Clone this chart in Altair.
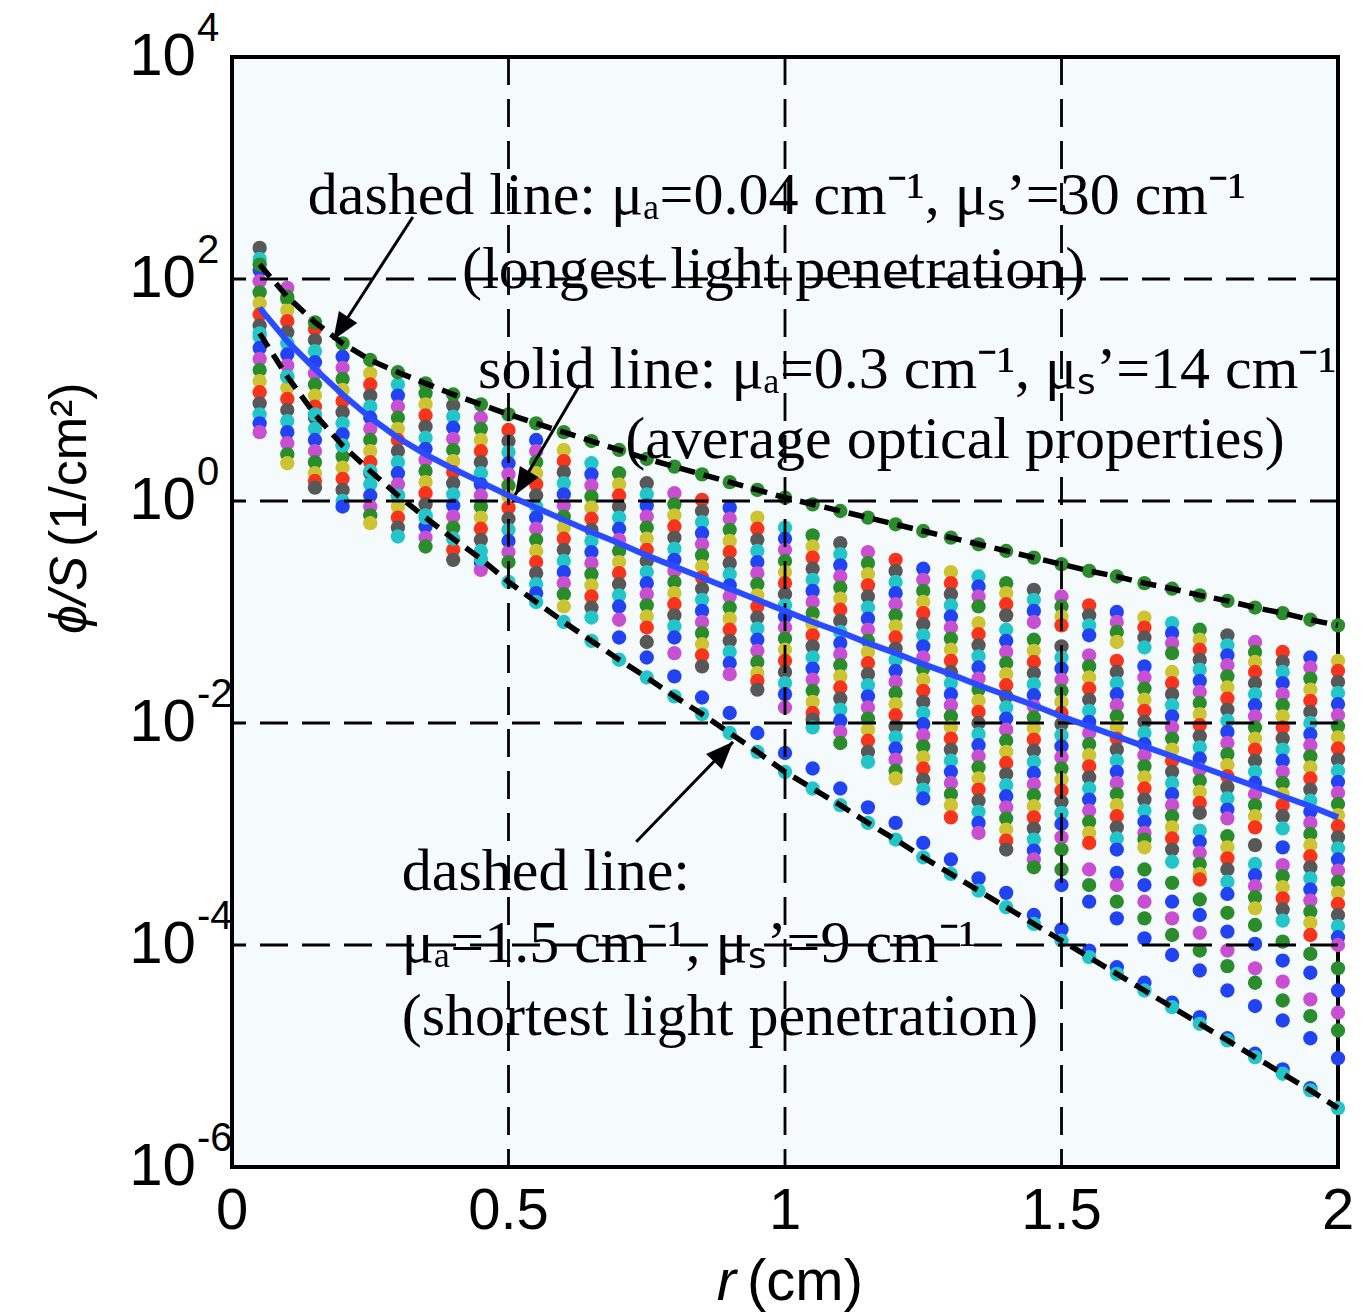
import altair as alt
import pandas as pd

# ---------------- data ----------------
r_values = [0.05, 0.10, 0.15, 0.20, 0.25, 0.30, 0.35, 0.40, 0.45, 0.50,
            0.55, 0.60, 0.65, 0.70, 0.75, 0.80, 0.85, 0.90, 0.95, 1.00,
            1.05, 1.10, 1.15, 1.20, 1.25, 1.30, 1.35, 1.40, 1.45, 1.50,
            1.55, 1.60, 1.65, 1.70, 1.75, 1.80, 1.85, 1.90, 1.95, 2.00]

# log10(phi/S) x 100 of the dense dots in each column (one string per r)
band_dots = [
    "228 218 208 198 188 178 168 158 148 138 128 118 108 98 88 78 70 62",
    "192 182 172 162 152 142 132 122 112 102 92 82 72 62 52 42 34",
    "155 145 135 125 115 105 95 85 75 65 55 45 35 25 18 12",
    "130 120 110 100 90 80 70 60 50 40 30 20 10 0 -5",
    "115 105 95 85 75 65 55 45 35 25 15 5 -5 -13 -20",
    "105 95 85 75 65 55 45 35 25 15 5 -5 -15 -24 -32",
    "97 87 77 67 57 47 37 27 17 7 -3 -13 -23 -33 -41",
    "86 76 66 56 46 36 26 16 6 -4 -14 -24 -34 -44 -53",
    "75 65 55 45 35 25 15 5 -5 -15 -25 -35 -45 -55 -62",
    "64 54 44 34 24 14 4 -6 -16 -26 -36 -46 -55",
    "55 45 35 25 15 5 -5 -15 -25 -35 -45 -55 -65 -75 -83",
    "46 36 26 16 6 -4 -14 -24 -34 -44 -54 -64 -74 -84 -95",
    "34 24 14 4 -6 -16 -26 -36 -46 -56 -66 -76 -86 -96 -105",
    "25 15 5 -5 -15 -25 -35 -45 -55 -65 -75 -85 -95 -107",
    "16 6 -4 -14 -24 -34 -44 -54 -64 -74 -84 -94 -104 -114 -127",
    "7 -3 -13 -23 -33 -43 -53 -63 -73 -83 -93 -103 -113 -123 -137",
    "1 -9 -19 -29 -39 -49 -59 -69 -79 -89 -99 -109 -119 -129 -139 -149",
    "-6 -16 -26 -36 -46 -56 -66 -76 -86 -96 -106 -116 -126 -136 -146 -156",
    "-15 -25 -35 -45 -55 -65 -75 -85 -95 -105 -115 -125 -135 -145 -155 -162 -170",
    "-24 -34 -44 -54 -64 -74 -84 -94 -104 -114 -124 -134 -144 -154 -164 -174 -186",
    "-31 -41 -51 -61 -71 -81 -91 -101 -111 -121 -131 -141 -151 -161 -171 -181 -191 -197 -204",
    "-38 -48 -58 -68 -78 -88 -98 -108 -118 -128 -138 -148 -158 -168 -178 -188 -198 -208 -218",
    "-46 -56 -66 -76 -86 -96 -106 -116 -126 -136 -146 -156 -166 -176 -186 -196 -206 -216 -226 -235",
    "-53 -63 -73 -83 -93 -103 -113 -123 -133 -143 -153 -163 -173 -183 -193 -203 -213 -223 -233 -243 -250",
    "-61 -71 -81 -91 -101 -111 -121 -131 -141 -151 -161 -171 -181 -191 -201 -211 -221 -231 -241 -251 -260 -268",
    "-64 -74 -84 -94 -104 -114 -124 -134 -144 -154 -164 -174 -184 -194 -204 -214 -224 -234 -244 -254 -264 -274 -285",
    "-68 -77 -86 -95 -110 -120 -130 -140 -150 -160 -170 -180 -190 -200 -210 -220 -230 -240 -250 -260 -270 -280 -290 -299",
    "-74 -83 -93 -103 -116 -126 -136 -146 -156 -166 -176 -186 -196 -206 -216 -226 -236 -246 -256 -266 -276 -286 -296 -306 -314",
    "-80 -89 -99 -109 -125 -135 -145 -155 -165 -175 -185 -195 -205 -215 -225 -235 -245 -255 -265 -275 -285 -295 -305 -315 -323 -330",
    "-86 -95 -104 -112 -131 -141 -151 -161 -171 -181 -191 -201 -211 -221 -231 -241 -251 -261 -271 -281 -291 -303 -314",
    "-94 -103 -112 -121 -139 -149 -159 -169 -179 -189 -199 -209 -219 -229 -239 -249 -259 -269 -279 -289 -299 -308",
    "-100 -109 -118 -127 -144 -154 -164 -174 -184 -194 -204 -214 -224 -234 -244 -254 -264 -274 -284 -294 -304 -314",
    "-105 -114 -123 -132 -149 -159 -169 -179 -189 -199 -209 -219 -229 -239 -249 -259 -269 -279 -289 -299 -305 -312",
    "-110 -119 -128 -137 -154 -164 -174 -184 -194 -204 -214 -224 -234 -244 -254 -264 -274 -284 -294 -304 -314 -325",
    "-116 -125 -134 -143 -152 -162 -172 -182 -192 -202 -212 -222 -232 -242 -252 -262 -272 -281 -297 -307 -317 -327 -336 -341",
    "-121 -130 -139 -148 -158 -168 -178 -188 -198 -208 -218 -228 -238 -248 -258 -268 -278 -286 -302 -312 -322 -332 -343 -354",
    "-127 -136 -145 -154 -164 -174 -184 -194 -204 -214 -224 -234 -244 -254 -264 -274 -284 -294 -310 -327 -337 -347 -357 -367",
    "-136 -145 -154 -164 -174 -184 -194 -204 -214 -224 -234 -244 -254 -264 -274 -284 -295 -312 -328 -338 -348 -358 -368 -378",
    "-141 -150 -160 -170 -180 -190 -200 -210 -220 -230 -240 -250 -260 -270 -280 -290 -300 -310 -320 -330 -340 -350 -360 -370 -380 -391",
    "-144 -153 -163 -173 -183 -193 -203 -213 -223 -233 -243 -253 -263 -273 -283 -293 -303 -313 -323 -333 -343 -353 -363 -373 -383 -393 -400",
]

# isolated dots below each column: log10 x 100 + colour letter
iso_dots = [
    "", "", "", "", "", "", "", "", "", "",
    "", "", "", "-123b", "-141b", "-158b", "-177b", "-191b", "-209b", "-227b",
    "-241b", "-259b", "-276b", "-290b", "-308b", "-323b", "-340b", "-353b", "-373b", "-332g -346b -386b",
    "-332m -346g -361b -405b",
    "-335b -346m -361g -376b -420b",
    "-332g -346b -361m -376g -394b -434b",
    "-344g -361b -376m -391g -409b -452b",
    "-359g -373b -389m -405g -423b -465b",
    "-371g -388b -405m -419g -441b -484b",
    "-382g -399b -421m -434g -455b -498b",
    "-397g -414b -433m -450g -468b -512b",
    "-408g -425b -449m -464g -484b -529b",
    "-421g -441b -461m -477g -502b",
]

# log10 of the three curves at each r
upper_line = [2.13, 1.84, 1.61, 1.42, 1.27, 1.16, 1.06, 0.96, 0.87, 0.78,
              0.70, 0.62, 0.54, 0.46, 0.38, 0.31, 0.24, 0.17, 0.10, 0.03,
              -0.03, -0.09, -0.15, -0.21, -0.27, -0.33, -0.39, -0.45, -0.51, -0.57,
              -0.63, -0.68, -0.74, -0.79, -0.85, -0.90, -0.96, -1.01, -1.07, -1.12]
mean_line = [1.74, 1.44, 1.19, 0.96, 0.75, 0.57, 0.42, 0.29, 0.17, 0.05,
             -0.06, -0.17, -0.28, -0.38, -0.49, -0.59, -0.69, -0.79, -0.89, -0.99,
             -1.09, -1.18, -1.28, -1.37, -1.47, -1.56, -1.66, -1.75, -1.84, -1.94,
             -2.03, -2.12, -2.21, -2.30, -2.39, -2.48, -2.57, -2.66, -2.75, -2.85]
lower_line = [1.51, 1.12, 0.78, 0.50, 0.27, 0.05, -0.15, -0.34, -0.52, -0.73,
              -0.91, -1.09, -1.26, -1.43, -1.59, -1.76, -1.92, -2.09, -2.26, -2.44,
              -2.59, -2.74, -2.90, -3.05, -3.21, -3.36, -3.51, -3.66, -3.81, -3.96,
              -4.11, -4.26, -4.41, -4.56, -4.71, -4.86, -5.01, -5.16, -5.31, -5.47]

x_ticks = [0, 0.5, 1, 1.5, 2]
x_tick_labels = ["0", "0.5", "1", "1.5", "2"]
y_ticks = [1e4, 1e2, 1, 1e-2, 1e-4, 1e-6]
y_exponents = ["4", "2", "0", "-2", "-4", "-6"]
grid_x = [0.5, 1.0, 1.5]
grid_y = [1e2, 1, 1e-2, 1e-4]

ann_text = [
    "dashed line: μₐ=0.04 cm⁻¹, μₛ’=30 cm⁻¹",
    "(longest light penetration)",
    "solid line: μₐ=0.3 cm⁻¹, μₛ’=14 cm⁻¹",
    "(average optical properties)",
    "dashed line:",
    "μₐ=1.5 cm⁻¹, μₛ’=9 cm⁻¹",
    "(shortest light penetration)",
]
ann_r = [0.137, 0.416, 0.445, 0.711, 0.307, 0.307, 0.307]
ann_logy = [2.586, 1.919, 1.018, 0.387, -3.505, -4.153, -4.811]

arrow_r0 = [0.327, 0.629, 0.731]
arrow_log0 = [2.559, 1.045, -3.07]
arrow_r1 = [0.183, 0.512, 0.906]
arrow_log1 = [1.450, 0.054, -2.17]
arrow_angle = [213, 211, 44]

# ---------------- build tables ----------------
palette = {"k": "#585858", "y": "#cdc433", "m": "#c84fd2", "c": "#22c6c9",
           "r": "#f8341c", "g": "#2a8c2a", "b": "#2243f2"}
cycle = ["k", "y", "m", "c", "r", "g", "b"]

rows = []
for i, (r, s) in enumerate(zip(r_values, band_dots)):
    for j, tok in enumerate(s.split()):
        rows.append({"r": r, "phi": 10 ** (int(tok) / 100),
                     "c": palette[cycle[(i * 2 + j * 3) % 7]]})
for r, s in zip(r_values, iso_dots):
    for tok in s.split():
        rows.append({"r": r, "phi": 10 ** (int(tok[:-1]) / 100), "c": palette[tok[-1]]})
for r, u, l in zip(r_values, upper_line, lower_line):
    rows.append({"r": r, "phi": 10 ** u, "c": palette["g"]})
    rows.append({"r": r, "phi": 10 ** l, "c": palette["c"]})
dots = pd.DataFrame(rows)

curves = pd.DataFrame(
    [{"r": r, "phi": 10 ** u, "s": "upper"} for r, u in zip(r_values, upper_line)]
    + [{"r": r, "phi": 10 ** l, "s": "lower"} for r, l in zip(r_values, lower_line)]
)
mean_df = pd.DataFrame({"r": r_values, "phi": [10 ** v for v in mean_line]})

xs = alt.Scale(domain=[0, 2], nice=False, zero=False)
ys = alt.Scale(type="log", domain=[1e-6, 1e4], nice=False)


def X(f):
    return alt.X(f, type="quantitative", scale=xs, axis=None)


def Y(f):
    return alt.Y(f, type="quantitative", scale=ys, axis=None)


dot_layer = alt.Chart(dots).mark_point(
    shape="circle", filled=True, opacity=1, strokeWidth=0
).encode(
    x=X("r"), y=Y("phi"), color=alt.Color("c:N", scale=None),
    size=alt.value(205)
)

grid_v = alt.Chart(pd.DataFrame({"v": grid_x})).mark_rule(
    color="black", strokeWidth=2.8, strokeDash=[28, 14]
).encode(x=X("v"))
grid_h = alt.Chart(pd.DataFrame({"v": grid_y})).mark_rule(
    color="black", strokeWidth=2.8, strokeDash=[28, 14]
).encode(y=Y("v"))

dashed = alt.Chart(curves).mark_line(
    color="black", strokeWidth=5.5, strokeDash=[16, 9]
).encode(x=X("r"), y=Y("phi"), detail="s:N")

solid = alt.Chart(mean_df).mark_line(color="#2a4bff", strokeWidth=6).encode(
    x=X("r"), y=Y("phi")
)

arr = pd.DataFrame({
    "r0": arrow_r0, "p0": [10 ** v for v in arrow_log0],
    "r1": arrow_r1, "p1": [10 ** v for v in arrow_log1],
    "a": arrow_angle,
})
arrow_lines = alt.Chart(arr).mark_rule(color="black", strokeWidth=3).encode(
    x=X("r0"), y=Y("p0"), x2="r1", y2="p1"
)
arrow_heads = alt.Chart(arr).mark_point(
    shape="M0,0 L-0.4,1 L0.4,1 Z", filled=True, color="black", opacity=1
).encode(x=X("r1"), y=Y("p1"), angle=alt.Angle("a:Q", scale=None),
         size=alt.value(3000))

ann = pd.DataFrame({"t": ann_text, "r": ann_r, "p": [10 ** v for v in ann_logy]})
ann_layer = alt.Chart(ann).mark_text(
    align="left", baseline="alphabetic", font="Liberation Serif", fontSize=60, color="black"
).encode(x=X("r"), y=Y("p"), text="t:N")

yt = pd.DataFrame({"v": y_ticks, "e": y_exponents, "b": ["10"] * len(y_ticks)})
ytick_base = alt.Chart(yt).mark_text(
    align="right", baseline="middle", font="Liberation Sans", fontSize=60, color="black"
).encode(x=alt.value(-36), y=Y("v"), text="b:N")
ytick_exp = alt.Chart(yt).mark_text(
    align="left", baseline="middle", font="Liberation Sans", fontSize=40, color="black", dy=-28
).encode(x=alt.value(-35), y=Y("v"), text="e:N")

xt = pd.DataFrame({"v": x_ticks, "t": x_tick_labels})
xtick_layer = alt.Chart(xt).mark_text(
    align="center", baseline="middle", font="Liberation Sans", fontSize=58, color="black"
).encode(x=X("v"), y=alt.value(1155), text="t:N")

xt1 = alt.Chart(pd.DataFrame({"t": ["r"]})).mark_text(
    align="right", baseline="middle", font="Liberation Sans", fontSize=58,
    fontStyle="italic", color="black"
).encode(x=alt.value(504), y=alt.value(1226), text="t:N")
xt2 = alt.Chart(pd.DataFrame({"t": ["(cm)"]})).mark_text(
    align="left", baseline="middle", font="Liberation Sans", fontSize=58, color="black"
).encode(x=alt.value(515), y=alt.value(1226), text="t:N")

yt1 = alt.Chart(pd.DataFrame({"t": ["ϕ/S"]})).mark_text(
    align="left", baseline="middle", font="Liberation Sans", fontSize=52,
    fontStyle="italic", color="black", angle=270
).encode(x=alt.value(-162), y=alt.value(577), text="t:N")
yt2 = alt.Chart(pd.DataFrame({"t": ["(1/cm²)"]})).mark_text(
    align="left", baseline="middle", font="Liberation Sans", fontSize=52,
    color="black", angle=270
).encode(x=alt.value(-162), y=alt.value(490), text="t:N")

chart = alt.layer(
    dot_layer, grid_v, grid_h, dashed, solid, arrow_lines, arrow_heads,
    ann_layer, ytick_base, ytick_exp, xtick_layer, xt1, xt2, yt1, yt2
).properties(
    width=1106, height=1110,
    autosize=alt.AutoSizeParams(type="none"),
    padding={"left": 232, "top": 57, "right": 32, "bottom": 148},
).configure_view(fill="#f5fafd", stroke="black", strokeWidth=4)

chart.save("out.html", embed_options={"renderer": "svg", "actions": False})
